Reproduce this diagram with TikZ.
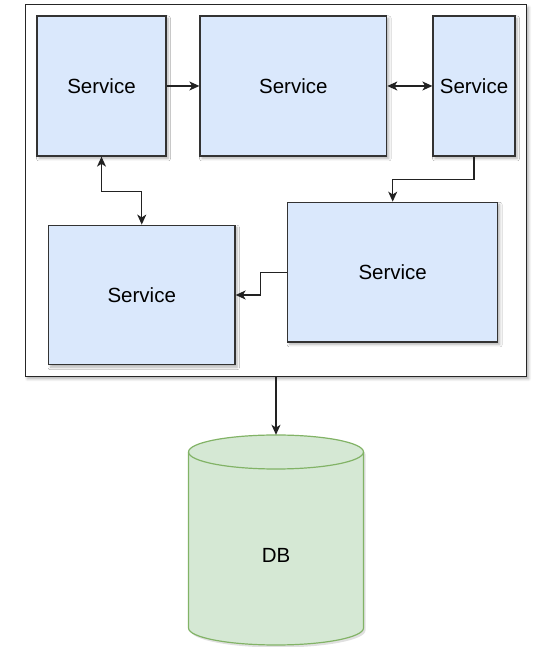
\documentclass[tikz,border=0pt]{standalone}
\usepackage{fontspec}
\setmainfont{Liberation Sans}
\usetikzlibrary{arrows.meta,shadows.blur}

\definecolor{svcfill}{HTML}{DAE8FC}
\definecolor{svcline}{HTML}{333333}
\definecolor{dbfill}{HTML}{D5E8D4}
\definecolor{dbline}{HTML}{82B366}
\definecolor{wire}{HTML}{222222}

\tikzset{
  softshadow/.style={blur shadow={shadow xshift=2pt, shadow yshift=-2.5pt,
      shadow blur radius=2.5pt, shadow blur steps=6, shadow opacity=30}},
  container/.style={draw=black!85, line width=1.1pt, fill=white, softshadow,
      inner sep=0pt},
  service/.style={draw=svcline, line width=1.3pt, fill=svcfill, softshadow,
      inner sep=0pt, font=\fontsize{20.5}{24}\selectfont},
  dbbody/.style={inner sep=0pt, font=\fontsize{20.5}{24}\selectfont},
  tip/.style={Stealth[length=10pt,width=9pt,inset=2.8pt]},
  link/.style={draw=wire, line width=1.2pt, -{Stealth[length=10pt,width=9pt,inset=2.8pt]}},
  twoway/.style={draw=wire, line width=1.2pt,
      {Stealth[length=10pt,width=9pt,inset=2.8pt]}-{Stealth[length=10pt,width=9pt,inset=2.8pt]}},
}

\begin{document}
\begin{tikzpicture}[x=1pt,y=1pt]
  \useasboundingbox (0,0) rectangle (534,647);

  % outer system boundary
  \node[container, minimum width=501.5pt, minimum height=371.8pt] (sys) at (276,456.4) {};

  % services
  \node[service, minimum width=129pt,   minimum height=140pt]   (s1) at (101.5,561)    {Service};
  \node[service, minimum width=186.7pt, minimum height=140pt]   (s2) at (293.35,561)   {Service};
  \node[service, minimum width=82pt,    minimum height=140pt]   (s3) at (474,561)      {Service};
  \node[service, minimum width=210pt,   minimum height=139.7pt] (s4) at (392.7,374.85) {Service};
  \node[service, minimum width=186.5pt, minimum height=139.5pt] (s5) at (141.75,352)   {Service};

  % database cylinder: body spans x 188.5..363.5, y 2..212, rim radius 17
  \node[dbbody, minimum width=175pt, minimum height=210pt] (db) at (276,107) {};
  \fill[black, opacity=0.12]
    (190.5,192.5) arc[start angle=180, end angle=0, x radius=87.5, y radius=17]
    -- (365.5,16.5) arc[start angle=0, end angle=-180, x radius=87.5, y radius=17]
    -- cycle;
  \filldraw[fill=dbfill, draw=dbline, line width=1.2pt]
    (188.5,195) arc[start angle=180, end angle=0, x radius=87.5, y radius=17]
    -- (363.5,19) arc[start angle=0, end angle=-180, x radius=87.5, y radius=17]
    -- cycle;
  \draw[dbline, line width=1.2pt]
    (188.5,195) arc[start angle=180, end angle=360, x radius=87.5, y radius=17];
  \node[dbbody] (dblabel) at (276,92) {DB};

  % connectors
  \draw[link]   (s1) -- (s2);
  \draw[twoway] (s2) -- (s3);
  \draw[link]   (s3.south) -- ++(0,-23) -| (s4.north);
  \draw[link]   (s4.west) -- ++(-26.2,0) |- (s5.east);
  \draw[twoway] (s1.south) -- ++(0,-35) -| (s5.north);
  \draw[link]   (sys.south) -- (db.north);
\end{tikzpicture}
\end{document}
